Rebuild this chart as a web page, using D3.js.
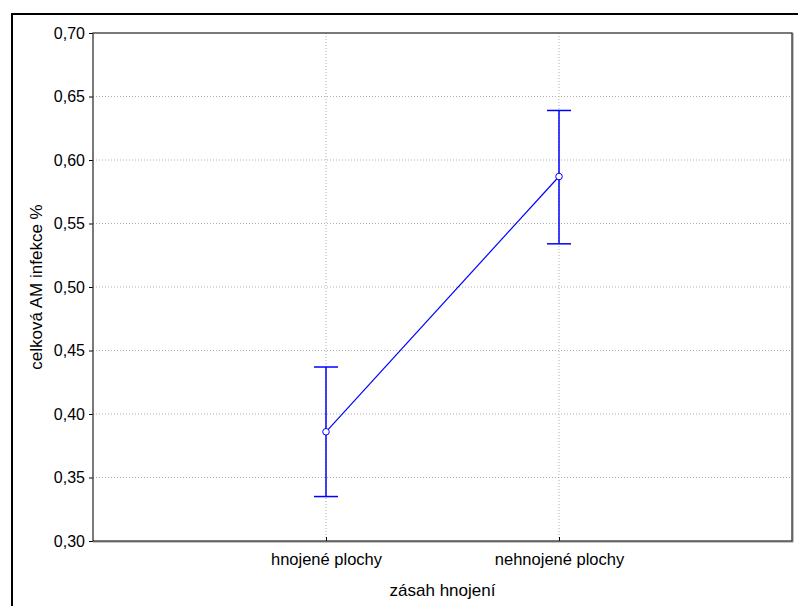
<!DOCTYPE html>
<html><head><meta charset="utf-8">
<script src="https://cdn.jsdelivr.net/npm/d3@7"></script>
<style>body{margin:0;background:#fff}svg{display:block}text{font-family:"Liberation Sans",Arial,sans-serif;fill:#000}</style>
</head><body>
<script>
const categories = ["hnojené plochy", "nehnojené plochy"];
const means = [0.386, 0.587];
const upper = [0.437, 0.639];
const lower = [0.335, 0.534];
const yTicks = [0.30, 0.35, 0.40, 0.45, 0.50, 0.55, 0.60, 0.65, 0.70];
const yTitle = "celková AM infekce %";
const xTitle = "zásah hnojení";

const W = 798, H = 606;
const m = {l: 93, t: 33, r: 792, b: 541};
const svg = d3.select("body").append("svg").attr("width", W).attr("height", H);

// outer frame
svg.append("rect").attr("x", 12).attr("y", 14).attr("width", 800).attr("height", 700)
  .attr("fill", "none").attr("stroke", "#000").attr("stroke-width", 2);

const x = d3.scalePoint().domain(categories).range([m.l, m.r]).padding(1);
const y = d3.scaleLinear().domain([0.30, 0.70]).range([m.b, m.t]);
const fmt = v => d3.format(".2f")(v).replace(".", ",");

// grid
svg.append("g").selectAll("line").data(yTicks.slice(1, -1)).join("line")
  .attr("x1", m.l).attr("x2", m.r).attr("y1", d => y(d)).attr("y2", d => y(d))
  .attr("stroke", "#b0b0b0").attr("stroke-dasharray", "1,2").attr("stroke-width", 1);
svg.append("g").selectAll("line").data(categories).join("line")
  .attr("y1", m.t).attr("y2", m.b).attr("x1", d => x(d)).attr("x2", d => x(d))
  .attr("stroke", "#b0b0b0").attr("stroke-dasharray", "1,2").attr("stroke-width", 1);

// axes
const yAxis = d3.axisLeft(y).tickValues(yTicks).tickFormat(fmt).tickSize(4).tickPadding(4);
const gy = svg.append("g").attr("transform", `translate(${m.l},0)`).call(yAxis);
gy.select(".domain").remove();
gy.selectAll("line").attr("stroke", "#000");
gy.selectAll("text").style("font-size", "16px");

const xAxis = d3.axisBottom(x).tickSize(-4).tickPadding(12);
const gx = svg.append("g").attr("transform", `translate(0,${m.b})`).call(xAxis);
gx.select(".domain").remove();
gx.selectAll("line").attr("stroke", "#000");
gx.selectAll("text").style("font-size", "16.5px");

// plot frame with shadow
svg.append("path").attr("d", `M${m.r+1},${m.t}V${m.b+1}H${m.l}`).attr("fill","none").attr("stroke","#888").attr("stroke-width",1);
svg.append("rect").attr("x", m.l).attr("y", m.t).attr("width", m.r - m.l).attr("height", m.b - m.t)
  .attr("fill", "none").attr("stroke", "#333").attr("stroke-width", 1.3);

// titles
svg.append("text").attr("x", (m.l + m.r) / 2).attr("y", 596).attr("text-anchor", "middle")
  .style("font-size", "17px").text(xTitle);
svg.append("text").attr("transform", `translate(42,${(m.t + m.b) / 2}) rotate(-90)`)
  .attr("text-anchor", "middle").style("font-size", "17px").text(yTitle);

const data = categories.map((c, i) => ({c, m: means[i], u: upper[i], l: lower[i]}));
const blue = "#0000ff";
svg.append("path").datum(data)
  .attr("d", d3.line().x(d => x(d.c)).y(d => y(d.m)))
  .attr("fill", "none").attr("stroke", blue).attr("stroke-width", 1.2);
const eb = svg.append("g").selectAll("g").data(data).join("g");
eb.append("line").attr("x1", d => x(d.c)).attr("x2", d => x(d.c))
  .attr("y1", d => y(d.u)).attr("y2", d => y(d.l)).attr("stroke", blue).attr("stroke-width", 1.5);
eb.append("line").attr("x1", d => x(d.c) - 12).attr("x2", d => x(d.c) + 12)
  .attr("y1", d => y(d.u)).attr("y2", d => y(d.u)).attr("stroke", blue).attr("stroke-width", 1.5);
eb.append("line").attr("x1", d => x(d.c) - 12).attr("x2", d => x(d.c) + 12)
  .attr("y1", d => y(d.l)).attr("y2", d => y(d.l)).attr("stroke", blue).attr("stroke-width", 1.5);
eb.append("circle").attr("cx", d => x(d.c)).attr("cy", d => y(d.m)).attr("r", 3.3)
  .attr("fill", "#fff").attr("stroke", blue).attr("stroke-width", 1);
</script>
</body></html>
